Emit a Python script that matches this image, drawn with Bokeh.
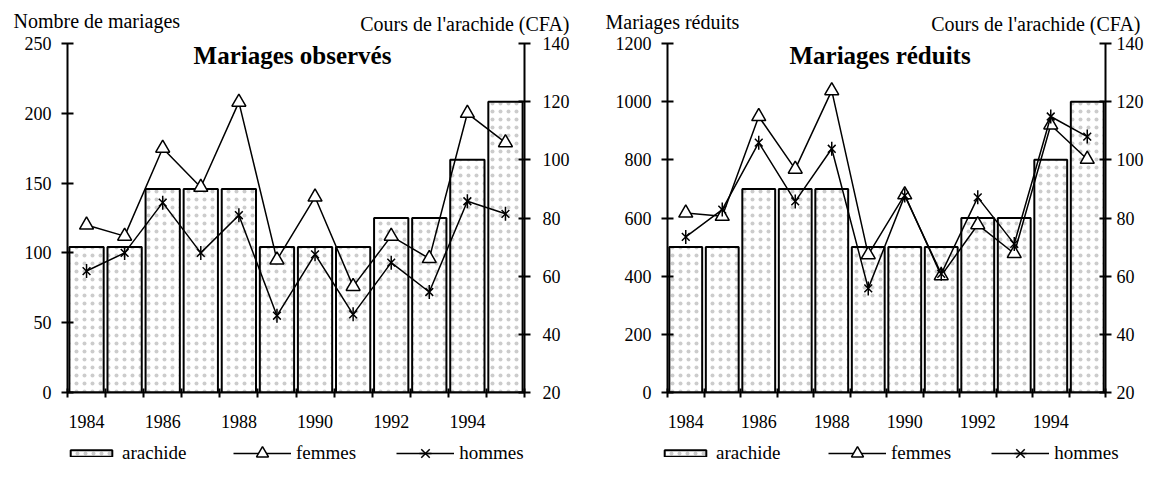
import math
import numpy as np
from bokeh.plotting import figure
from bokeh.models import Range1d, LinearAxis, FixedTicker, Label, Legend, LegendItem
from bokeh.layouts import row, column
from bokeh.embed import file_html
from bokeh.resources import INLINE

# ---------------- data ----------------
years = [1984, 1985, 1986, 1987, 1988, 1989, 1990, 1991, 1992, 1993, 1994, 1995]
year_labels = ["1984", "1986", "1988", "1990", "1992", "1994"]
arachide = [70, 70, 90, 90, 90, 70, 70, 70, 80, 80, 100, 120]
femmes_obs = [120, 112, 175, 147, 208, 95, 140, 76, 112, 96, 200, 179]
hommes_obs = [87, 100, 136, 100, 127, 55, 99, 56, 93, 72, 137, 128]
femmes_red = [617, 606, 949, 768, 1038, 474, 680, 402, 577, 478, 920, 802]
hommes_red = [535, 629, 859, 657, 838, 358, 677, 408, 671, 511, 949, 880]
obs_ticks = [0, 50, 100, 150, 200, 250]
red_ticks = [0, 200, 400, 600, 800, 1000, 1200]
price_ticks = [20, 40, 60, 80, 100, 120, 140]

FONT = "Liberation Serif"
TOTAL_W = 1146
HEAD_BOT = 35
FRAME_TOP, FRAME_BOTTOM = 43, 392
MAIN_BOT = 438
FOOT_BOT = 462

BAR_STYLE = dict(fill_color="white", line_color="black", line_width=2,
                 hatch_pattern="dot", hatch_color="#cccccc", hatch_scale=8)
LINE_STYLE = dict(line_color="black", line_width=1.5)
TRI_STYLE = dict(marker="triangle", size=14, fill_color="white",
                 line_color="black", line_width=1.5)
X_STYLE = dict(marker="x", size=11, line_color="black", line_width=1.5)
DASH_STYLE = dict(marker="dash", size=14, angle=math.pi / 2,
                  line_color="black", line_width=1.5)


def mid_of(baseline, font_px):
    # vertical middle of a text line whose baseline is given
    return baseline - 0.34 * font_px


def strip_fig(top, bottom):
    f = figure(width=TOTAL_W, height=bottom - top, title=None,
               x_range=Range1d(0, TOTAL_W), y_range=Range1d(bottom, top),
               output_backend="svg", toolbar_location=None,
               x_axis_type=None, y_axis_type=None, min_border=0)
    f.outline_line_color = None
    f.xgrid.visible = False
    f.ygrid.visible = False
    return f


def make_chart(title, left_ticks, femmes, hommes, fig_left, fig_width,
               frame_left, frame_right, title_cx, right_standoff):
    n = len(years)
    xs = [i + 0.5 for i in range(n)]
    ymax = left_ticks[-1]
    p = figure(width=fig_width, height=MAIN_BOT - HEAD_BOT, title=None,
               x_range=Range1d(0, n), y_range=Range1d(left_ticks[0], ymax),
               output_backend="svg", toolbar_location=None,
               min_border_left=frame_left - fig_left,
               min_border_right=fig_left + fig_width - frame_right,
               min_border_top=FRAME_TOP - HEAD_BOT,
               min_border_bottom=MAIN_BOT - FRAME_BOTTOM)
    p.outline_line_color = None
    p.xgrid.visible = False
    p.ygrid.visible = False

    p.extra_y_ranges = {"price": Range1d(price_ticks[0], price_ticks[-1])}

    def px2x(px):
        return (px - frame_left) / (frame_right - frame_left) * n

    def py2y(py):
        return (FRAME_BOTTOM - py) / (FRAME_BOTTOM - FRAME_TOP) * ymax

    p.vbar(x=xs, top=arachide, bottom=price_ticks[0], width=0.9,
           y_range_name="price", **BAR_STYLE)
    p.line(xs, femmes, **LINE_STYLE)
    p.scatter(xs, femmes, **TRI_STYLE)
    p.line(xs, hommes, **LINE_STYLE)
    p.scatter(xs, hommes, **X_STYLE)
    p.scatter(xs, hommes, **DASH_STYLE)

    xa = p.xaxis[0]
    label_pos = [years.index(int(l)) + 0.5 for l in year_labels]
    xa.ticker = FixedTicker(ticks=label_pos, minor_ticks=list(range(n + 1)))
    xa.major_label_overrides = {pos: lab for pos, lab in zip(label_pos, year_labels)}
    xa.major_tick_in = 0
    xa.major_tick_out = 0
    xa.minor_tick_in = 4
    xa.minor_tick_out = 5
    xa.minor_tick_line_width = 2
    xa.minor_tick_line_color = "black"
    xa.major_label_standoff = 17

    ya = p.yaxis[0]
    ya.ticker = FixedTicker(ticks=left_ticks)
    ya.major_tick_in = 6
    ya.major_tick_out = 6
    ya.minor_tick_line_color = None
    ya.major_label_standoff = 10

    ra = LinearAxis(y_range_name="price", ticker=FixedTicker(ticks=price_ticks))
    ra.major_tick_in = 6
    ra.major_tick_out = 6
    ra.minor_tick_line_color = None
    ra.major_label_standoff = right_standoff
    p.add_layout(ra, "right")

    for ax in (xa, ya, ra):
        ax.axis_line_color = "black"
        ax.axis_line_width = 2
        ax.major_tick_line_color = "black"
        ax.major_tick_line_width = 2
        ax.major_label_text_color = "black"
        ax.major_label_text_font = FONT
        ax.major_label_text_font_size = "18px"

    p.add_layout(Label(x=px2x(title_cx), y=py2y(mid_of(63, 25)), text=title,
                       text_font=FONT, text_font_size="25px",
                       text_font_style="bold", text_align="center",
                       text_baseline="middle", text_color="black"))
    return p


p1 = make_chart("Mariages observés", obs_ticks, femmes_obs, hommes_obs,
                fig_left=0, fig_width=580, frame_left=67, frame_right=524,
                title_cx=292, right_standoff=12)
p2 = make_chart("Mariages réduits", red_ticks, femmes_red, hommes_red,
                fig_left=580, fig_width=TOTAL_W - 580, frame_left=667,
                frame_right=1108, title_cx=881, right_standoff=5)

# header with the axis titles
head = strip_fig(0, HEAD_BOT)
head_texts = [("Nombre de mariages", 13, 27, "left"),
              ("Cours de l'arachide (CFA)", 569, 30, "right"),
              ("Mariages réduits", 605, 28, "left"),
              ("Cours de l'arachide (CFA)", 1140, 30, "right")]
for txt, hx, hy, al in head_texts:
    head.add_layout(Label(x=hx, y=mid_of(hy, 20), text=txt, text_font=FONT,
                          text_font_size="20px", text_align=al,
                          text_baseline="middle", text_color="black"))

# footer with the legends (legend-only renderers: one NaN point, never drawn)
foot = strip_fig(MAIN_BOT, FOOT_BOT)
nan1 = np.array([np.nan])
r_bar = foot.vbar(x=nan1, top=nan1, bottom=nan1, width=1, **BAR_STYLE)
r_fl = foot.line(nan1, nan1, **LINE_STYLE)
r_fm = foot.scatter(nan1, nan1, **TRI_STYLE)
r_hl = foot.line(nan1, nan1, **LINE_STYLE)
r_hx = foot.scatter(nan1, nan1, **X_STYLE)
r_hd = foot.scatter(nan1, nan1, **DASH_STYLE)

common = dict(orientation="horizontal", margin=0, padding=0,
              border_line_color=None, background_fill_alpha=0,
              label_text_font=FONT, label_text_font_size="19px",
              label_text_color="black", label_standoff=5, spacing=40,
              label_height=20)
LEG_CY = 452
for sw_x, ln_x in [(65, 233), (659, 828)]:
    foot.add_layout(Legend(items=[LegendItem(label="arachide", renderers=[r_bar])],
                           location=(sw_x, FOOT_BOT - LEG_CY - 12),
                           glyph_width=52, glyph_height=8, **common))
    foot.add_layout(Legend(items=[LegendItem(label="femmes", renderers=[r_fl, r_fm]),
                                  LegendItem(label="hommes", renderers=[r_hl, r_hx, r_hd])],
                           location=(ln_x, FOOT_BOT - LEG_CY - 16),
                           glyph_width=58, glyph_height=30, **common))

layout = column(head, row(p1, p2), foot)
open("out.html", "w").write(file_html(layout, INLINE))
